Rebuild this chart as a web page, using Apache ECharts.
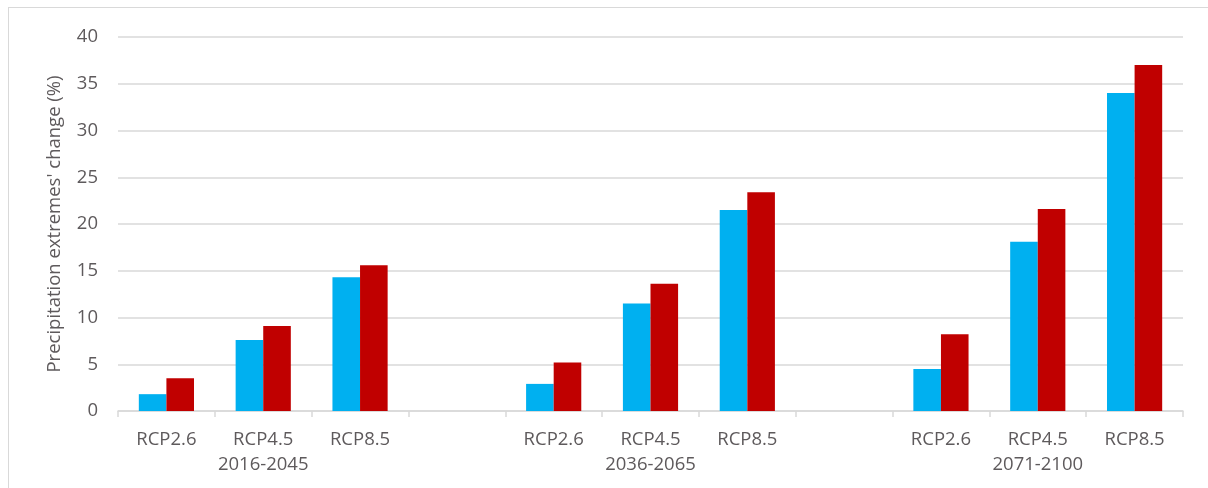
<!DOCTYPE html>
<html>
<head>
<meta charset="utf-8">
<script src="https://cdn.jsdelivr.net/npm/echarts@6/dist/echarts.min.js"></script>
<style>
  html, body { margin: 0; padding: 0; background: #fff; }
  #frame { position: absolute; left: 8px; top: 7px; width: 1300px; height: 600px;
           border-left: 1.5px solid #d9d9d9; border-top: 1.5px solid #d9d9d9; }
  #chart { position: absolute; left: 0; top: 0; width: 1208px; height: 488px; }
</style>
</head>
<body>
<div id="frame"></div>
<div id="chart"></div>
<script>
// Scenario labels per slot; empty strings are spacer slots between periods
const categories = [
  'RCP2.6', 'RCP4.5\n2016-2045', 'RCP8.5', '',
  'RCP2.6', 'RCP4.5\n2036-2065', 'RCP8.5', '',
  'RCP2.6', 'RCP4.5\n2071-2100', 'RCP8.5'
];
// Change in precipitation extremes (%), two estimates per scenario
const seriesBlue = [1.8, 7.6, 14.3, null, 2.9, 11.5, 21.5, null, 4.5, 18.1, 34.0];
const seriesRed  = [3.5, 9.1, 15.6, null, 5.2, 13.6, 23.4, null, 8.2, 21.6, 37.0];
const yTicks = { min: 0, max: 40, interval: 5 };

const textColor = '#5e5a5c';
const lineColor = '#d9d9d9';
const font = '"Open Sans", "Noto Sans", sans-serif';
const fontSize = 18.5;

const chart = echarts.init(document.getElementById('chart'));
chart.setOption({
  animation: false,
  textStyle: { fontFamily: font },
  grid: { left: 118, right: 25, top: 37, bottom: 77 },
  xAxis: {
    type: 'category',
    data: categories,
    axisLine: { lineStyle: { color: lineColor, width: 1.5 } },
    axisTick: { show: true, length: 6, lineStyle: { color: lineColor, width: 1.5 } },
    axisLabel: {
      color: textColor, fontSize: fontSize, fontFamily: font,
      lineHeight: 25, margin: 16, interval: 0
    }
  },
  yAxis: {
    type: 'value',
    min: yTicks.min, max: yTicks.max, interval: yTicks.interval,
    name: "Precipitation extremes' change (%)",
    nameLocation: 'middle',
    nameGap: 54,
    nameTextStyle: { color: textColor, fontSize: fontSize, fontFamily: font },
    axisLine: { show: false },
    axisTick: { show: false },
    axisLabel: { color: textColor, fontSize: fontSize, fontFamily: font, margin: 20 },
    splitLine: { lineStyle: { color: lineColor, width: 1.5 } }
  },
  series: [
    {
      type: 'bar', data: seriesBlue, barGap: '0%', barCategoryGap: '43%',
      itemStyle: { color: '#00B0F0' }
    },
    {
      type: 'bar', data: seriesRed, barGap: '0%', barCategoryGap: '43%',
      itemStyle: { color: '#C00000' }
    }
  ]
});
</script>
</body>
</html>
